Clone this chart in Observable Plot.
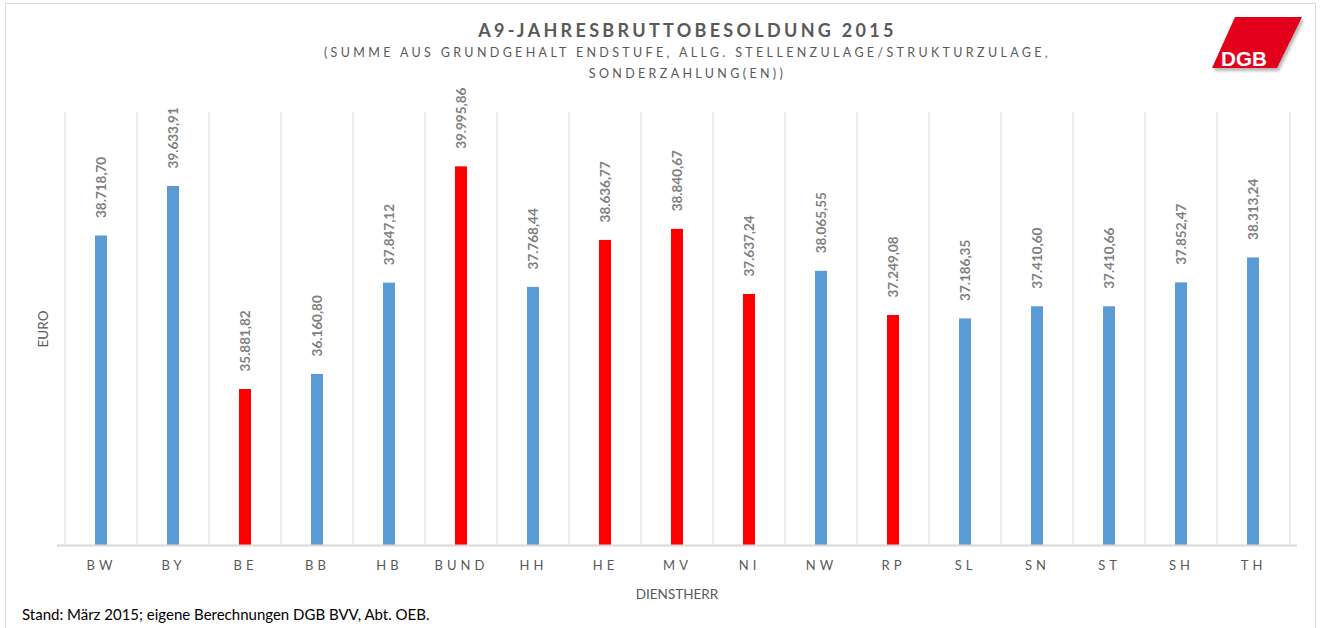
<!DOCTYPE html>
<html>
<head>
<meta charset="utf-8">
<script src="https://cdn.jsdelivr.net/npm/d3@7"></script>
<script src="https://cdn.jsdelivr.net/npm/@observablehq/plot@0.6"></script>
<style>
  html, body { margin: 0; padding: 0; background: #fff; }
  #wrap { position: relative; width: 1320px; height: 628px; overflow: hidden; background: #fff; font-family: Lato, "Open Sans", sans-serif; }
  #frame { position: absolute; left: 5px; top: 3px; width: 1311px; height: 700px; border: 1px solid #d9d9d9; box-sizing: border-box; }
  #title { position: absolute; left: 0; width: 1375px; top: 19px; text-align: center; font-size: 18px; font-weight: bold; letter-spacing: 3.3px; color: #595959; }
  #subtitle { position: absolute; left: 0; width: 1375px; top: 43px; text-align: center; font-size: 12.5px; letter-spacing: 3.35px; line-height: 20.5px; color: #595959; }
  #euro { position: absolute; left: 43px; top: 329px; transform: translate(-50%, -50%) rotate(-90deg); font-size: 13.5px; color: #595959; white-space: nowrap; }
  #xlabel { position: absolute; left: 677px; top: 594px; transform: translate(-50%, -50%); font-size: 13.5px; color: #595959; }
  #caption { position: absolute; left: 22px; top: 614px; transform: translateY(-50%); font-size: 15px; color: #000; white-space: nowrap; }
  #chart { position: absolute; left: 0; top: 80px; }
  #logo { position: absolute; left: 1200px; top: 8px; }
  #chart g[aria-label^="x-axis"] text { letter-spacing: 4px; }
</style>
</head>
<body>
<div id="wrap">
  <div id="frame"></div>
  <div id="title">A9-JAHRESBRUTTOBESOLDUNG 2015</div>
  <div id="subtitle">(SUMME AUS GRUNDGEHALT ENDSTUFE, ALLG. STELLENZULAGE/STRUKTURZULAGE,<br>SONDERZAHLUNG(EN))</div>
  <div id="chart"></div>
  <div id="euro">EURO</div>
  <div id="xlabel">DIENSTHERR</div>
  <div id="caption">Stand: März 2015; eigene Berechnungen DGB BVV, Abt. OEB.</div>
  <svg id="logo" width="115" height="72" viewBox="1200 8 115 72">
    <defs>
      <filter id="sh" x="-20%" y="-20%" width="140%" height="140%"><feGaussianBlur stdDeviation="1.5"/></filter>
    </defs>
    <polygon points="1237,20 1304,20 1279,71 1214,71" fill="#9a9a9a" filter="url(#sh)" opacity="0.7"/>
    <polygon points="1235,17 1302,17 1277,68 1212,68" fill="#e3001b"/>
    <text x="1221" y="66" fill="#fff" font-family="Liberation Sans, Arial, sans-serif" font-weight="bold" font-size="21" textLength="46" lengthAdjust="spacingAndGlyphs">DGB</text>
  </svg>
</div>
<script>
const categories = ["BW","BY","BE","BB","HB","BUND","HH","HE","MV","NI","NW","RP","SL","SN","ST","SH","TH"];
const values = [38718.70, 39633.91, 35881.82, 36160.80, 37847.12, 39995.86, 37768.44, 38636.77, 38840.67, 37637.24, 38065.55, 37249.08, 37186.35, 37410.60, 37410.66, 37852.47, 38313.24];
const highlighted = ["BE","BUND","HE","MV","NI","RP"];
const yDomain = [33000, 41000];
const blue = "#5b9bd5";
const red = "#ff0000";

const data = categories.map((k, i) => ({k, v: values[i]}));
const de = d3.formatLocale({decimal: ",", thousands: ".", grouping: [3], currency: ["", " €"]});
const fmt = de.format(",.2f");

const W = 1320, H = 548, mL = 57, mR = 23, mT = 32, mB = 83;
const bw = (W - mL - mR) / categories.length;

const plot = Plot.plot({
  width: W,
  height: H,
  marginLeft: mL,
  marginRight: mR,
  marginTop: mT,
  marginBottom: mB,
  style: {fontFamily: "Lato, 'Open Sans', sans-serif", background: "transparent", overflow: "visible"},
  x: {domain: categories, padding: 0, tickSize: 0, tickPadding: 15, label: null},
  y: {domain: yDomain, axis: null},
  marks: [
    Plot.tickX(categories, {x: d => d, dx: -bw / 2, stroke: "#d9d9d9", strokeWidth: 1}),
    Plot.tickX(categories.slice(-1), {x: d => d, dx: bw / 2, stroke: "#d9d9d9", strokeWidth: 1}),
    Plot.barY(data, {x: "k", y1: yDomain[0], y2: "v", fill: d => highlighted.includes(d.k) ? red : blue, insetLeft: 30, insetRight: 30}),
    Plot.ruleY([yDomain[0]], {stroke: "#d9d9d9", strokeWidth: 2}),
    Plot.text(data, {x: "k", y: "v", text: d => fmt(d.v), rotate: -90, textAnchor: "start", dy: -18, fontWeight: "bold", fontSize: 13.5, fill: "#7f7f7f"})
  ]
});
document.getElementById("chart").appendChild(plot);
plot.querySelectorAll('g[aria-label^="x-axis"] text').forEach(t => { t.setAttribute("fill", "#595959"); t.style.fontSize = "13px"; });
</script>
</body>
</html>
